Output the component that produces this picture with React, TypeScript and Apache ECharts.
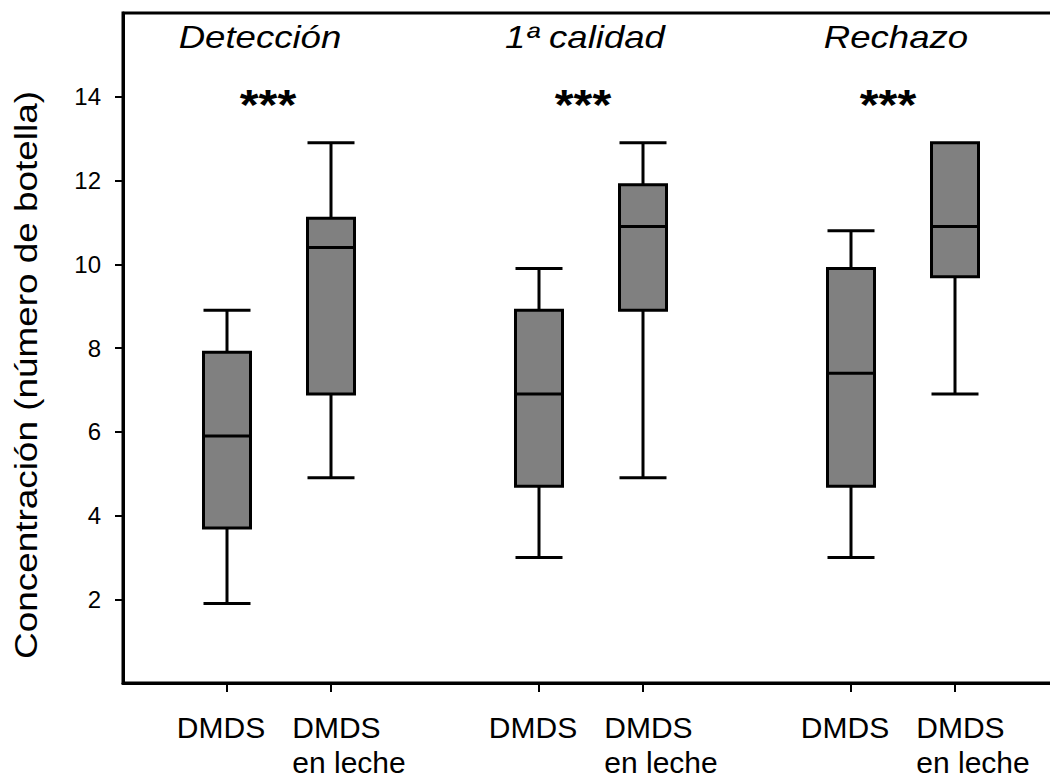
import { useEffect, useRef } from 'react';
import * as echarts from 'echarts';

// Panels and significance marks
const groupTitles = ['Detección', '1ª calidad', 'Rechazo'];
const groupStars = ['***', '***', '***'];
const titleX = [260, 585, 896];
const starX = [268, 583, 888];

// One box per treatment, placed on the x scale
const boxNames = ['DMDS', 'DMDS\nen leche', 'DMDS', 'DMDS\nen leche', 'DMDS', 'DMDS\nen leche'];
const boxPositions = [1, 2, 4, 5, 7, 8];
const whiskerLow = [1.9, 4.9, 3.0, 4.9, 3.0, 6.9];
const quartile1 = [3.7, 6.9, 4.7, 8.9, 4.7, 9.7];
const medians = [5.9, 10.4, 6.9, 10.9, 7.4, 10.9];
const quartile3 = [7.9, 11.1, 8.9, 11.9, 9.9, 12.9];
const whiskerHigh = [8.9, 12.9, 9.9, 12.9, 10.8, 12.9];

const yTicks = [2, 4, 6, 8, 10, 12, 14];
const yTitle = 'Concentración (número de botella)';

const FONT = '"Liberation Sans", Arial, Helvetica, sans-serif';

export default function App() {
  const ref = useRef<HTMLDivElement>(null);

  useEffect(() => {
    const chart = echarts.init(ref.current!, null, { renderer: 'svg' });
    const nameAt = new Map(boxPositions.map((p, i) => [p, boxNames[i]]));
    // single-line labels on one axis, two-line labels on an overlaid one
    const singlePos = boxPositions.filter((p) => !nameAt.get(p)!.includes('\n'));
    const doublePos = boxPositions.filter((p) => nameAt.get(p)!.includes('\n'));

    const graphics: any[] = [];
    groupTitles.forEach((t, i) => {
      graphics.push({
        type: 'text',
        x: titleX[i],
        y: 37,
        scaleX: 1.18,
        silent: true,
        style: {
          text: t,
          fontSize: 31,
          fontStyle: 'italic',
          fontFamily: FONT,
          fill: '#000',
          align: 'center',
          verticalAlign: 'middle',
        },
      });
    });
    groupStars.forEach((s, i) => {
      graphics.push({
        type: 'text',
        x: starX[i],
        y: 105,
        scaleX: 1.15,
        silent: true,
        style: {
          text: s,
          fontSize: 42,
          fontWeight: 'bold',
          fontFamily: FONT,
          fill: '#000',
          align: 'center',
          verticalAlign: 'middle',
        },
      });
    });
    graphics.push({
      type: 'text',
      x: 26,
      y: 375,
      rotation: Math.PI / 2,
      scaleX: 1.19,
      silent: true,
      style: {
        text: yTitle,
        fontSize: 31,
        fontFamily: FONT,
        fill: '#000',
        align: 'center',
        verticalAlign: 'middle',
      },
    });

    const labelBase = {
      showMinLabel: true,
      showMaxLabel: true,
      hideOverlap: false,
      margin: 27,
      color: '#000',
      fontFamily: FONT,
      fontSize: 30,
      lineHeight: 35,
      rich: {
        t: { fontFamily: FONT, fontSize: 30, lineHeight: 35, color: '#000', align: 'left' },
        pad: { width: 36, fontSize: 30, lineHeight: 35, align: 'left' },
        gap: { width: 12, fontSize: 30, lineHeight: 35, align: 'left' },
      },
    };

    chart.setOption({
      animation: false,
      backgroundColor: '#ffffff',
      grid: {
        left: 123,
        right: -9,
        top: 13,
        bottom: 97,
        outerBoundsMode: 'none',
        containLabel: false,
        show: true,
        borderColor: '#000',
        borderWidth: 3,
        backgroundColor: 'transparent',
      },
      xAxis: [
        {
          type: 'value',
          min: 0,
          max: 9,
          position: 'bottom',
          splitLine: { show: false },
          axisLine: { show: true, onZero: false, lineStyle: { color: '#000', width: 3 } },
          axisTick: {
            show: true,
            customValues: boxPositions,
            length: 9,
            lineStyle: { color: '#000', width: 2 },
          },
          axisLabel: {
            ...labelBase,
            customValues: singlePos,
            formatter: (v: number) => {
              const name = nameAt.get(v);
              return name ? `{t|${name}}{gap| }` : '';
            },
          },
        },
        {
          type: 'value',
          min: 0,
          max: 9,
          position: 'bottom',
          splitLine: { show: false },
          axisLine: { show: false, onZero: false },
          axisTick: { show: false },
          axisLabel: {
            ...labelBase,
            customValues: doublePos,
            formatter: (v: number) => {
              const name = nameAt.get(v);
              if (!name) return '';
              return name
                .split('\n')
                .map((l) => `{pad| }{t|${l}}`)
                .join('\n');
            },
          },
        },
      ],
      yAxis: {
        type: 'value',
        min: 0,
        max: 16,
        interval: 2,
        splitLine: { show: false },
        axisLine: { show: true, lineStyle: { color: '#000', width: 3 } },
        axisTick: {
          show: true,
          customValues: yTicks,
          length: 8,
          lineStyle: { color: '#000', width: 2 },
        },
        axisLabel: {
          customValues: yTicks,
          showMinLabel: true,
          showMaxLabel: true,
          margin: 22,
          color: '#000',
          fontFamily: FONT,
          fontSize: 24,
        },
      },
      series: [
        {
          type: 'boxplot',
          xAxisIndex: 0,
          boxWidth: [47, 47],
          silent: true,
          emphasis: { disabled: true },
          itemStyle: { color: '#808080', borderColor: '#000', borderWidth: 3 },
          data: boxPositions.map((p, i) => [
            p,
            whiskerLow[i],
            quartile1[i],
            medians[i],
            quartile3[i],
            whiskerHigh[i],
          ]),
        },
      ],
      graphic: graphics,
    });

    return () => chart.dispose();
  }, []);

  return (
    <div
      ref={ref}
      style={{ position: 'fixed', left: 0, top: 0, width: 1050, height: 780, background: '#fff' }}
    />
  );
}
